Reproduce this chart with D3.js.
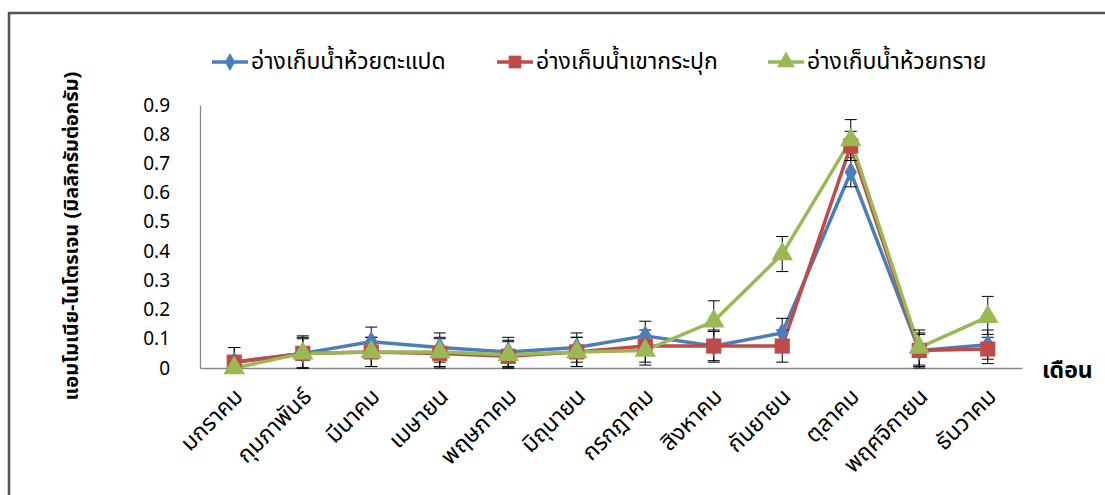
<!DOCTYPE html>
<html>
<head>
<meta charset="utf-8">
<script src="https://cdn.jsdelivr.net/npm/d3@7"></script>
<style>
  body { margin: 0; background: #fff; }
  text { font-family: "Noto Sans Thai", "Noto Sans", "DejaVu Sans", sans-serif; fill: #000; }
</style>
</head>
<body>
<div id="chart"></div>
<script>
// Chart data
var months = ["มกราคม", "กุมภาพันธ์", "มีนาคม", "เมษายน", "พฤษภาคม", "มิถุนายน",
  "กรกฎาคม", "สิงหาคม", "กันยายน", "ตุลาคม", "พฤศจิกายน", "ธันวาคม"];
var seriesNames = ["อ่างเก็บน้ำห้วยตะแปด", "อ่างเก็บน้ำเขากระปุก", "อ่างเก็บน้ำห้วยทราย"];
var taPaetValues = [0.02, 0.05, 0.09, 0.07, 0.055, 0.07, 0.11, 0.075, 0.12, 0.67, 0.06, 0.08];
var taPaetErrors = [0.05, 0.06, 0.05, 0.05, 0.05, 0.05, 0.05, 0.05, 0.05, 0.05, 0.06, 0.05];
var khaoKrapukValues = [0.02, 0.05, 0.055, 0.05, 0.04, 0.055, 0.075, 0.075, 0.075, 0.76, 0.06, 0.065];
var khaoKrapukErrors = [0.05, 0.055, 0.05, 0.05, 0.05, 0.05, 0.055, 0.055, 0.055, 0.05, 0.055, 0.05];
var huaiSaiValues = [0.0, 0.05, 0.055, 0.055, 0.045, 0.055, 0.06, 0.16, 0.39, 0.78, 0.07, 0.175];
var huaiSaiErrors = [0.04, 0.05, 0.05, 0.05, 0.05, 0.05, 0.05, 0.07, 0.06, 0.07, 0.06, 0.07];
var yTicks = [0, 0.1, 0.2, 0.3, 0.4, 0.5, 0.6, 0.7, 0.8, 0.9];

var svgWidth = 1105;
var svgHeight = 495;
var margin = { top: 105, right: 83, bottom: 127, left: 200 };
var width = svgWidth - margin.left - margin.right;
var height = svgHeight - margin.top - margin.bottom;

var svg = d3.select("#chart")
  .append("svg")
  .attr("width", svgWidth)
  .attr("height", svgHeight);

// Outer frame (only top and left edges show)
svg.append("path")
  .attr("d", "M9,496 V13 H1106")
  .attr("fill", "none")
  .attr("stroke", "#555")
  .attr("stroke-width", 2.5);

var chartGroup = svg.append("g")
  .attr("transform", `translate(${margin.left}, ${margin.top})`);

var xScale = d3.scaleBand()
  .domain(months)
  .range([0, width]);

var yScale = d3.scaleLinear()
  .domain([0, 0.9])
  .range([height, 0]);

var series = [
  { name: seriesNames[0], values: taPaetValues, errors: taPaetErrors, color: "#4a7ebb", shape: d3.symbolDiamond, size: 130 },
  { name: seriesNames[1], values: khaoKrapukValues, errors: khaoKrapukErrors, color: "#be4b48", shape: d3.symbolSquare, size: 230 },
  { name: seriesNames[2], values: huaiSaiValues, errors: huaiSaiErrors, color: "#98b954", shape: d3.symbolTriangle, size: 200 }
];

var cx = d => xScale(d) + xScale.bandwidth() / 2;

// Axes
var leftAxis = d3.axisLeft(yScale).tickValues(yTicks).tickSize(0).tickPadding(30)
  .tickFormat(d => d === 0 ? "0" : d3.format(".1f")(d));
var yAxisG = chartGroup.append("g").call(leftAxis);
yAxisG.select(".domain").attr("stroke", "#888").attr("stroke-width", 1.3);
yAxisG.selectAll("text").attr("font-size", 19).attr("font-family", "Liberation Sans, Arial, sans-serif");

var bottomAxis = d3.axisBottom(xScale).tickSize(0).tickPadding(0);
var xAxisG = chartGroup.append("g")
  .attr("transform", `translate(0, ${height})`)
  .call(bottomAxis);
xAxisG.select(".domain").attr("stroke", "#888").attr("stroke-width", 1.3);
xAxisG.selectAll("text")
  .attr("font-size", 23)
  .attr("text-anchor", "end")
  .attr("dy", 0)
  .attr("transform", "translate(10, 30) rotate(-45)");

// Lines, error bars, markers
series.forEach(function(s) {
  var pts = months.map((m, i) => ({ m: m, v: s.values[i], e: s.errors[i] }));
  chartGroup.append("path")
    .datum(pts)
    .attr("fill", "none")
    .attr("stroke", s.color)
    .attr("stroke-width", 3.5)
    .attr("stroke-linejoin", "round")
    .attr("d", d3.line().x(d => cx(d.m)).y(d => yScale(d.v)));

  var eb = chartGroup.append("g").selectAll("g")
    .data(pts).enter().append("g")
    .attr("stroke", "#000").attr("stroke-width", 1);
  eb.append("line")
    .attr("x1", d => cx(d.m)).attr("x2", d => cx(d.m))
    .attr("y1", d => yScale(d.v + d.e)).attr("y2", d => yScale(Math.max(0, d.v - d.e)));
  eb.append("line")
    .attr("x1", d => cx(d.m) - 6).attr("x2", d => cx(d.m) + 6)
    .attr("y1", d => yScale(d.v + d.e)).attr("y2", d => yScale(d.v + d.e));
  eb.append("line")
    .attr("x1", d => cx(d.m) - 6).attr("x2", d => cx(d.m) + 6)
    .attr("y1", d => yScale(Math.max(0, d.v - d.e))).attr("y2", d => yScale(Math.max(0, d.v - d.e)));
});

series.forEach(function(s) {
  var pts = months.map((m, i) => ({ m: m, v: s.values[i] }));
  chartGroup.append("g").selectAll("path")
    .data(pts).enter().append("path")
    .attr("d", d3.symbol().type(s.shape).size(s.size))
    .attr("transform", d => `translate(${cx(d.m)}, ${yScale(d.v)})`)
    .attr("fill", s.color);
});

// Legend
var legendX = [212, 497, 768];
series.forEach(function(s, i) {
  var lg = svg.append("g").attr("transform", `translate(${legendX[i]}, 62)`);
  lg.append("line").attr("x1", 0).attr("x2", 36).attr("y1", 0).attr("y2", 0)
    .attr("stroke", s.color).attr("stroke-width", 3.5);
  lg.append("path").attr("d", d3.symbol().type(s.shape).size(s.size * 0.7))
    .attr("transform", "translate(18, 0)").attr("fill", s.color);
  lg.append("text").attr("x", 39).attr("y", 7).attr("font-size", 23).text(s.name);
});

// Axis titles
svg.append("text")
  .attr("transform", "translate(78, 236) rotate(-90)")
  .attr("text-anchor", "middle")
  .attr("font-size", 20)
  .attr("font-weight", "bold")
  .text("แอมโมเนีย-ไนโตรเจน (มิลลิกรัมต่อกรัม)");

svg.append("text")
  .attr("x", 1042)
  .attr("y", 378)
  .attr("font-size", 23)
  .attr("font-weight", "bold")
  .text("เดือน");
</script>
</body>
</html>
